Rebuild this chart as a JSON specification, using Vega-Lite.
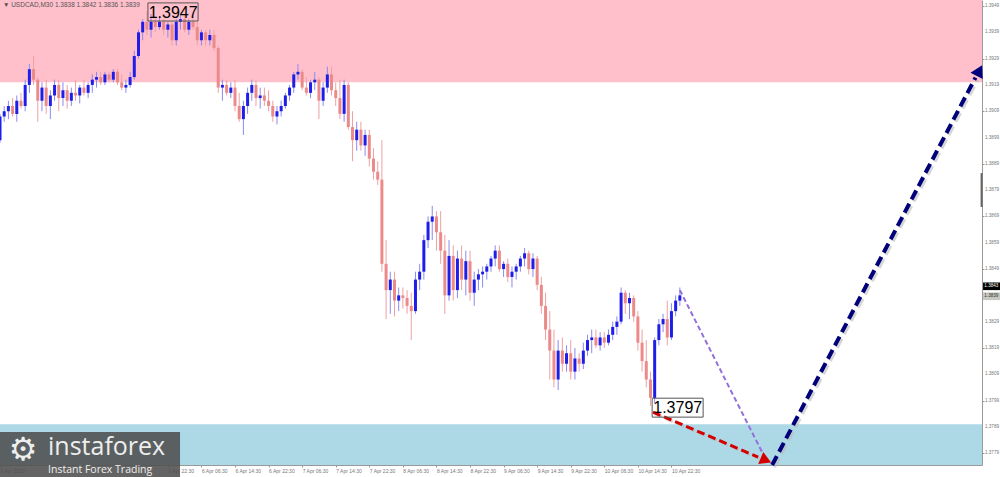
{
"$schema": "https://vega.github.io/schema/vega-lite/v6.json",
"width": 982, "height": 465,
"autosize": {"type": "none"},
"padding": {"left": 0, "top": 0, "right": 18, "bottom": 12},
"background": "white",
"config": {
"view": {"stroke": null},
"scale": {"continuousPadding": 0},
"axis": {"labelOverlap": false, "labelFlush": false, "labelBound": false, "grid": false, "title": null, "labelFont": "Liberation Sans", "labelColor": "#777777", "tickColor": "#999999", "domainColor": "#999999"},
"axisX": {"labelFontSize": 5, "labelPadding": 1, "tickSize": 2, "labelAlign": "left"},
"axisY": {"labels": false, "tickSize": 2}
},
"datasets": {
"candles": [
{"t":0,"o":1.3898,"h":1.3908,"l":1.3897,"c":1.3907},
{"t":2,"o":1.3907,"h":1.3911,"l":1.3905,"c":1.3909},
{"t":4,"o":1.3909,"h":1.3913,"l":1.3906,"c":1.3911},
{"t":6,"o":1.3911,"h":1.3914,"l":1.3907,"c":1.3908},
{"t":8,"o":1.3908,"h":1.3915,"l":1.3905,"c":1.3913},
{"t":10,"o":1.3913,"h":1.3916,"l":1.3910,"c":1.3911},
{"t":12,"o":1.3911,"h":1.3921,"l":1.3909,"c":1.3919},
{"t":14,"o":1.3919,"h":1.3927,"l":1.3916,"c":1.3925},
{"t":16,"o":1.3925,"h":1.3930,"l":1.3919,"c":1.3921},
{"t":18,"o":1.3921,"h":1.3922,"l":1.3905,"c":1.3913},
{"t":20,"o":1.3913,"h":1.3920,"l":1.3909,"c":1.3918},
{"t":22,"o":1.3918,"h":1.3921,"l":1.3908,"c":1.3911},
{"t":24,"o":1.3911,"h":1.3917,"l":1.3906,"c":1.3915},
{"t":26,"o":1.3915,"h":1.3921,"l":1.3913,"c":1.3919},
{"t":28,"o":1.3919,"h":1.3921,"l":1.3909,"c":1.3914},
{"t":30,"o":1.3914,"h":1.3920,"l":1.3911,"c":1.3917},
{"t":32,"o":1.3917,"h":1.3919,"l":1.3910,"c":1.3913},
{"t":34,"o":1.3913,"h":1.3918,"l":1.3911,"c":1.3916},
{"t":36,"o":1.3916,"h":1.3921,"l":1.3913,"c":1.3915},
{"t":38,"o":1.3915,"h":1.3919,"l":1.3912,"c":1.3918},
{"t":40,"o":1.3918,"h":1.3921,"l":1.3915,"c":1.3916},
{"t":42,"o":1.3916,"h":1.3920,"l":1.3914,"c":1.3919},
{"t":44,"o":1.3919,"h":1.3923,"l":1.3916,"c":1.3921},
{"t":46,"o":1.3921,"h":1.3924,"l":1.3918,"c":1.3922},
{"t":48,"o":1.3922,"h":1.3924,"l":1.3919,"c":1.3920},
{"t":50,"o":1.3920,"h":1.3924,"l":1.3919,"c":1.3923},
{"t":52,"o":1.3923,"h":1.3924,"l":1.3920,"c":1.3921},
{"t":54,"o":1.3921,"h":1.3925,"l":1.3920,"c":1.3924},
{"t":56,"o":1.3924,"h":1.3925,"l":1.3919,"c":1.3920},
{"t":58,"o":1.3920,"h":1.3923,"l":1.3917,"c":1.3918},
{"t":60,"o":1.3918,"h":1.3921,"l":1.3916,"c":1.3919},
{"t":62,"o":1.3919,"h":1.3924,"l":1.3918,"c":1.3922},
{"t":64,"o":1.3922,"h":1.3932,"l":1.3921,"c":1.3930},
{"t":66,"o":1.3930,"h":1.3940,"l":1.3929,"c":1.3939},
{"t":68,"o":1.3939,"h":1.3944,"l":1.3936,"c":1.3943},
{"t":70,"o":1.3943,"h":1.3947,"l":1.3938,"c":1.3940},
{"t":72,"o":1.3940,"h":1.3946,"l":1.3937,"c":1.3943},
{"t":74,"o":1.3943,"h":1.3945,"l":1.3939,"c":1.3941},
{"t":76,"o":1.3941,"h":1.3945,"l":1.3940,"c":1.3943},
{"t":78,"o":1.3943,"h":1.3944,"l":1.3938,"c":1.3940},
{"t":80,"o":1.3940,"h":1.3943,"l":1.3937,"c":1.3942},
{"t":82,"o":1.3942,"h":1.3943,"l":1.3934,"c":1.3936},
{"t":84,"o":1.3936,"h":1.3944,"l":1.3934,"c":1.3943},
{"t":86,"o":1.3943,"h":1.3946,"l":1.3940,"c":1.3944},
{"t":88,"o":1.3944,"h":1.3946,"l":1.3939,"c":1.3940},
{"t":90,"o":1.3940,"h":1.3944,"l":1.3938,"c":1.3943},
{"t":92,"o":1.3943,"h":1.3945,"l":1.3940,"c":1.3941},
{"t":94,"o":1.3941,"h":1.3943,"l":1.3934,"c":1.3936},
{"t":96,"o":1.3936,"h":1.3940,"l":1.3934,"c":1.3939},
{"t":98,"o":1.3939,"h":1.3940,"l":1.3934,"c":1.3936},
{"t":100,"o":1.3936,"h":1.3940,"l":1.3934,"c":1.3938},
{"t":102,"o":1.3938,"h":1.3940,"l":1.3932,"c":1.3933},
{"t":104,"o":1.3933,"h":1.3934,"l":1.3916,"c":1.3918},
{"t":106,"o":1.3918,"h":1.3921,"l":1.3913,"c":1.3919},
{"t":108,"o":1.3919,"h":1.3921,"l":1.3915,"c":1.3916},
{"t":110,"o":1.3916,"h":1.3920,"l":1.3914,"c":1.3918},
{"t":112,"o":1.3918,"h":1.3921,"l":1.3909,"c":1.3911},
{"t":114,"o":1.3911,"h":1.3916,"l":1.3905,"c":1.3906},
{"t":116,"o":1.3906,"h":1.3913,"l":1.3900,"c":1.3911},
{"t":118,"o":1.3911,"h":1.3918,"l":1.3908,"c":1.3916},
{"t":120,"o":1.3916,"h":1.3921,"l":1.3913,"c":1.3919},
{"t":122,"o":1.3919,"h":1.3921,"l":1.3911,"c":1.3914},
{"t":124,"o":1.3914,"h":1.3918,"l":1.3910,"c":1.3915},
{"t":126,"o":1.3915,"h":1.3918,"l":1.3911,"c":1.3913},
{"t":128,"o":1.3913,"h":1.3917,"l":1.3909,"c":1.3911},
{"t":130,"o":1.3911,"h":1.3913,"l":1.3905,"c":1.3907},
{"t":132,"o":1.3907,"h":1.3911,"l":1.3904,"c":1.3909},
{"t":134,"o":1.3909,"h":1.3913,"l":1.3907,"c":1.3911},
{"t":136,"o":1.3911,"h":1.3916,"l":1.3910,"c":1.3915},
{"t":138,"o":1.3915,"h":1.3919,"l":1.3913,"c":1.3918},
{"t":140,"o":1.3918,"h":1.3924,"l":1.3916,"c":1.3923},
{"t":142,"o":1.3923,"h":1.3927,"l":1.3921,"c":1.3924},
{"t":144,"o":1.3924,"h":1.3925,"l":1.3917,"c":1.3918},
{"t":146,"o":1.3918,"h":1.3922,"l":1.3915,"c":1.3916},
{"t":148,"o":1.3916,"h":1.3921,"l":1.3914,"c":1.3920},
{"t":150,"o":1.3920,"h":1.3924,"l":1.3917,"c":1.3921},
{"t":152,"o":1.3921,"h":1.3922,"l":1.3906,"c":1.3913},
{"t":154,"o":1.3913,"h":1.3920,"l":1.3911,"c":1.3918},
{"t":156,"o":1.3918,"h":1.3926,"l":1.3916,"c":1.3923},
{"t":158,"o":1.3923,"h":1.3926,"l":1.3915,"c":1.3917},
{"t":160,"o":1.3917,"h":1.3920,"l":1.3911,"c":1.3914},
{"t":162,"o":1.3914,"h":1.3921,"l":1.3906,"c":1.3908},
{"t":164,"o":1.3908,"h":1.3921,"l":1.3905,"c":1.3919},
{"t":166,"o":1.3919,"h":1.3920,"l":1.3902,"c":1.3903},
{"t":168,"o":1.3903,"h":1.3909,"l":1.3890,"c":1.3898},
{"t":170,"o":1.3898,"h":1.3905,"l":1.3894,"c":1.3902},
{"t":172,"o":1.3902,"h":1.3905,"l":1.3894,"c":1.3896},
{"t":174,"o":1.3896,"h":1.3902,"l":1.3892,"c":1.3900},
{"t":176,"o":1.3900,"h":1.3902,"l":1.3888,"c":1.3891},
{"t":178,"o":1.3891,"h":1.3895,"l":1.3883,"c":1.3886},
{"t":180,"o":1.3886,"h":1.3890,"l":1.3881,"c":1.3883},
{"t":182,"o":1.3883,"h":1.3898,"l":1.3848,"c":1.3851},
{"t":184,"o":1.3851,"h":1.3860,"l":1.3830,"c":1.3841},
{"t":186,"o":1.3841,"h":1.3848,"l":1.3832,"c":1.3845},
{"t":188,"o":1.3845,"h":1.3848,"l":1.3831,"c":1.3837},
{"t":190,"o":1.3837,"h":1.3842,"l":1.3833,"c":1.3839},
{"t":192,"o":1.3839,"h":1.3842,"l":1.3834,"c":1.3838},
{"t":194,"o":1.3838,"h":1.3841,"l":1.3832,"c":1.3835},
{"t":196,"o":1.3835,"h":1.3840,"l":1.3822,"c":1.3833},
{"t":198,"o":1.3833,"h":1.3848,"l":1.3832,"c":1.3845},
{"t":200,"o":1.3845,"h":1.3851,"l":1.3841,"c":1.3848},
{"t":202,"o":1.3848,"h":1.3862,"l":1.3845,"c":1.3860},
{"t":204,"o":1.3860,"h":1.3869,"l":1.3857,"c":1.3867},
{"t":206,"o":1.3867,"h":1.3873,"l":1.3860,"c":1.3869},
{"t":208,"o":1.3869,"h":1.3871,"l":1.3856,"c":1.3863},
{"t":210,"o":1.3863,"h":1.3871,"l":1.3851,"c":1.3856},
{"t":212,"o":1.3856,"h":1.3862,"l":1.3832,"c":1.3839},
{"t":214,"o":1.3839,"h":1.3860,"l":1.3837,"c":1.3854},
{"t":216,"o":1.3854,"h":1.3858,"l":1.3837,"c":1.3841},
{"t":218,"o":1.3841,"h":1.3856,"l":1.3838,"c":1.3853},
{"t":220,"o":1.3853,"h":1.3858,"l":1.3841,"c":1.3845},
{"t":222,"o":1.3845,"h":1.3856,"l":1.3839,"c":1.3852},
{"t":224,"o":1.3852,"h":1.3856,"l":1.3837,"c":1.3840},
{"t":226,"o":1.3840,"h":1.3848,"l":1.3835,"c":1.3845},
{"t":228,"o":1.3845,"h":1.3849,"l":1.3841,"c":1.3847},
{"t":230,"o":1.3847,"h":1.3850,"l":1.3842,"c":1.3848},
{"t":232,"o":1.3848,"h":1.3851,"l":1.3845,"c":1.3850},
{"t":234,"o":1.3850,"h":1.3854,"l":1.3848,"c":1.3853},
{"t":236,"o":1.3853,"h":1.3858,"l":1.3850,"c":1.3856},
{"t":238,"o":1.3856,"h":1.3858,"l":1.3848,"c":1.3849},
{"t":240,"o":1.3849,"h":1.3852,"l":1.3846,"c":1.3851},
{"t":242,"o":1.3851,"h":1.3853,"l":1.3844,"c":1.3846},
{"t":244,"o":1.3846,"h":1.3850,"l":1.3842,"c":1.3848},
{"t":246,"o":1.3848,"h":1.3851,"l":1.3845,"c":1.3850},
{"t":248,"o":1.3850,"h":1.3854,"l":1.3848,"c":1.3853},
{"t":250,"o":1.3853,"h":1.3857,"l":1.3850,"c":1.3855},
{"t":252,"o":1.3855,"h":1.3856,"l":1.3847,"c":1.3849},
{"t":254,"o":1.3849,"h":1.3855,"l":1.3846,"c":1.3853},
{"t":256,"o":1.3853,"h":1.3854,"l":1.3841,"c":1.3843},
{"t":258,"o":1.3843,"h":1.3846,"l":1.3832,"c":1.3835},
{"t":260,"o":1.3835,"h":1.3840,"l":1.3822,"c":1.3826},
{"t":262,"o":1.3826,"h":1.3833,"l":1.3807,"c":1.3818},
{"t":264,"o":1.3818,"h":1.3826,"l":1.3804,"c":1.3807},
{"t":266,"o":1.3807,"h":1.3822,"l":1.3803,"c":1.3818},
{"t":268,"o":1.3818,"h":1.3823,"l":1.3810,"c":1.3813},
{"t":270,"o":1.3813,"h":1.3820,"l":1.3810,"c":1.3817},
{"t":272,"o":1.3817,"h":1.3822,"l":1.3807,"c":1.3810},
{"t":274,"o":1.3810,"h":1.3819,"l":1.3807,"c":1.3815},
{"t":276,"o":1.3815,"h":1.3817,"l":1.3810,"c":1.3813},
{"t":278,"o":1.3813,"h":1.3821,"l":1.3811,"c":1.3818},
{"t":280,"o":1.3818,"h":1.3824,"l":1.3816,"c":1.3822},
{"t":282,"o":1.3822,"h":1.3826,"l":1.3817,"c":1.3823},
{"t":284,"o":1.3823,"h":1.3826,"l":1.3819,"c":1.3820},
{"t":286,"o":1.3820,"h":1.3825,"l":1.3818,"c":1.3823},
{"t":288,"o":1.3823,"h":1.3825,"l":1.3819,"c":1.3821},
{"t":290,"o":1.3821,"h":1.3826,"l":1.3820,"c":1.3824},
{"t":292,"o":1.3824,"h":1.3829,"l":1.3822,"c":1.3827},
{"t":294,"o":1.3827,"h":1.3831,"l":1.3824,"c":1.3829},
{"t":296,"o":1.3829,"h":1.3842,"l":1.3828,"c":1.3840},
{"t":298,"o":1.3840,"h":1.3841,"l":1.3832,"c":1.3836},
{"t":300,"o":1.3836,"h":1.3840,"l":1.3830,"c":1.3838},
{"t":302,"o":1.3838,"h":1.3839,"l":1.3829,"c":1.3831},
{"t":304,"o":1.3831,"h":1.3833,"l":1.3818,"c":1.3821},
{"t":306,"o":1.3821,"h":1.3826,"l":1.3810,"c":1.3814},
{"t":308,"o":1.3814,"h":1.3822,"l":1.3804,"c":1.3807},
{"t":310,"o":1.3807,"h":1.3810,"l":1.3797,"c":1.3800},
{"t":312,"o":1.3800,"h":1.3823,"l":1.3798,"c":1.3822},
{"t":314,"o":1.3822,"h":1.3830,"l":1.3820,"c":1.3828},
{"t":316,"o":1.3828,"h":1.3832,"l":1.3825,"c":1.3830},
{"t":318,"o":1.3830,"h":1.3837,"l":1.3820,"c":1.3823},
{"t":320,"o":1.3823,"h":1.3836,"l":1.3822,"c":1.3833},
{"t":322,"o":1.3833,"h":1.3839,"l":1.3831,"c":1.3837},
{"t":324,"o":1.3837,"h":1.3842,"l":1.3835,"c":1.3839}
],
"zones": [
{"zone":"resistance","lo":1.3920,"hi":1.39513},
{"zone":"support","lo":1.37745,"hi":1.3790}
],
"ylabels": [
{"p":1.3779,"label":"1.3779"},{"p":1.3789,"label":"1.3789"},{"p":1.3799,"label":"1.3799"},{"p":1.3809,"label":"1.3809"},
{"p":1.3819,"label":"1.3819"},{"p":1.3829,"label":"1.3829"},{"p":1.3849,"label":"1.3849"},{"p":1.3859,"label":"1.3859"},
{"p":1.3869,"label":"1.3869"},{"p":1.3879,"label":"1.3879"},{"p":1.3889,"label":"1.3889"},{"p":1.3899,"label":"1.3899"},
{"p":1.3909,"label":"1.3909"},{"p":1.3919,"label":"1.3919"},{"p":1.3929,"label":"1.3929"},{"p":1.3939,"label":"1.3939"},
{"p":1.3949,"label":"1.3949"}
]
},
"layer": [
{
"data": {"name": "zones"},
"mark": {"type": "rect"},
"encoding": {
"x": {"datum": 0, "type": "quantitative", "title": null, "scale": {"domain": [0, 468], "nice": false, "zero": false, "padding": 0},
"axis": {"orient": "bottom", "values": [0,80,96,112,128,144,160,176,192,208,224,240,256,272,288,304,320],
"labelExpr": "['2 Apr 2020','2 Apr 14:30','2 Apr 22:30','3 Apr 06:30','3 Apr 14:30','3 Apr 22:30','6 Apr 06:30','6 Apr 14:30','6 Apr 22:30','7 Apr 06:30','7 Apr 14:30','7 Apr 22:30','8 Apr 06:30','8 Apr 14:30','8 Apr 22:30','9 Apr 06:30','9 Apr 14:30','9 Apr 22:30','10 Apr 06:30','10 Apr 14:30','10 Apr 22:30'][datum.value/16]",
"labelAlign": "left", "labelOverlap": false, "labelFlush": false, "zindex": 0}},
"x2": {"datum": 468},
"y": {"field": "lo", "type": "quantitative", "title": null, "scale": {"domain": [1.37745, 1.39513], "nice": false, "zero": false, "padding": 0},
"axis": {"orient": "right", "values": [1.3779,1.3789,1.3799,1.3809,1.3819,1.3829,1.3849,1.3859,1.3869,1.3879,1.3889,1.3899,1.3909,1.3919,1.3929,1.3939,1.3949],
"labels": false, "zindex": 0}},
"y2": {"field": "hi"},
"color": {"field": "zone", "type": "nominal", "scale": {"domain": ["resistance", "support"], "range": ["#FFC0CB", "#ADD8E6"]}, "legend": null}
}
},
{
"data": {"name": "candles"},
"mark": {"type": "rule", "strokeWidth": 1},
"encoding": {
"x": {"field": "t", "type": "quantitative", "title": null, "scale": {"domain": [0, 468], "nice": false, "zero": false, "padding": 0}},
"y": {"field": "l", "type": "quantitative", "title": null, "scale": {"domain": [1.37745, 1.39513], "nice": false, "zero": false, "padding": 0}},
"y2": {"field": "h"},
"color": {"condition": {"test": "datum.c < datum.o", "value": "#f0a0a0"}, "value": "#8a8af2"}
}
},
{
"data": {"name": "candles"},
"mark": {"type": "bar", "size": 3},
"encoding": {
"x": {"field": "t", "type": "quantitative", "title": null, "scale": {"domain": [0, 468], "nice": false, "zero": false, "padding": 0}},
"y": {"field": "o", "type": "quantitative", "title": null, "scale": {"domain": [1.37745, 1.39513], "nice": false, "zero": false, "padding": 0}},
"y2": {"field": "c"},
"color": {"condition": {"test": "datum.c < datum.o", "value": "#ec8a8a"}, "value": "#1e1ee8"}
}
},
{
"data": {"name": "ylabels"},
"mark": {"type": "text", "fontSize": 4.6, "font": "Liberation Sans", "color": "#777777", "align": "left", "baseline": "middle"},
"encoding": {
"x": {"datum": 469.4, "type": "quantitative", "title": null},
"y": {"field": "p", "type": "quantitative", "title": null},
"text": {"field": "label"}
}
},
{
"data": {"values": [{"t": 324, "p": 1.3841}, {"t": 364.6, "p": 1.37772}]},
"mark": {"type": "line", "color": "#9370DB", "strokeWidth": 2, "strokeDash": [5, 3]},
"encoding": {
"x": {"field": "t", "type": "quantitative", "title": null},
"y": {"field": "p", "type": "quantitative", "title": null}
}
},
{
"data": {"values": [{"t": 311.2, "p": 1.37946}, {"t": 361.3, "p": 1.37775}]},
"mark": {"type": "line", "color": "#bbbbbb", "strokeWidth": 3, "strokeDash": [8, 4], "xOffset": 1.5, "yOffset": 1.5, "opacity": 0.6},
"encoding": {
"x": {"field": "t", "type": "quantitative", "title": null},
"y": {"field": "p", "type": "quantitative", "title": null}
}
},
{
"data": {"values": [{"t": 311.2, "p": 1.37946}, {"t": 361.3, "p": 1.37775}]},
"mark": {"type": "line", "color": "#D40000", "strokeWidth": 3, "strokeDash": [8, 4]},
"encoding": {
"x": {"field": "t", "type": "quantitative", "title": null},
"y": {"field": "p", "type": "quantitative", "title": null}
}
},
{
"data": {"values": [{"t": 368, "p": 1.37745}, {"t": 464.9, "p": 1.39218}]},
"mark": {"type": "line", "color": "#bbbbbb", "strokeWidth": 4, "strokeDash": [10, 5], "xOffset": 2, "yOffset": 2, "opacity": 0.6},
"encoding": {
"x": {"field": "t", "type": "quantitative", "title": null},
"y": {"field": "p", "type": "quantitative", "title": null}
}
},
{
"data": {"values": [{"t": 368, "p": 1.37745}, {"t": 464.9, "p": 1.39218}]},
"mark": {"type": "line", "color": "#00007A", "strokeWidth": 4, "strokeDash": [10, 5]},
"encoding": {
"x": {"field": "t", "type": "quantitative", "title": null},
"y": {"field": "p", "type": "quantitative", "title": null}
}
},
{
"data": {"values": [{"t": 364.2, "p": 1.37766}]},
"mark": {"type": "point", "shape": "triangle", "filled": true, "size": 170, "angle": 113, "color": "#D40000", "opacity": 1},
"encoding": {
"x": {"field": "t", "type": "quantitative", "title": null},
"y": {"field": "p", "type": "quantitative", "title": null}
}
},
{
"data": {"values": [{"t": 466.3, "p": 1.39238}]},
"mark": {"type": "point", "shape": "triangle", "filled": true, "size": 190, "angle": 27.7, "color": "#00007A", "opacity": 1},
"encoding": {
"x": {"field": "t", "type": "quantitative", "title": null},
"y": {"field": "p", "type": "quantitative", "title": null}
}
},
{
"data": {"values": [{"t": 70.5, "t1": 94.4, "p": 1.39502, "p1": 1.39433}, {"t": 310.8, "t1": 335.1, "p": 1.37999, "p1": 1.37927}]},
"mark": {"type": "rect", "fill": null, "fillOpacity": 0, "stroke": "#555555", "strokeWidth": 1},
"encoding": {
"x": {"field": "t", "type": "quantitative", "title": null},
"x2": {"field": "t1"},
"y": {"field": "p", "type": "quantitative", "title": null},
"y2": {"field": "p1"}
}
},
{
"data": {"values": [{"t": 82.5, "p": 1.39465, "label": "1.3947"}, {"t": 323, "p": 1.37962, "label": "1.3797"}]},
"mark": {"type": "text", "fontSize": 16, "font": "Liberation Sans", "color": "#000000", "align": "center", "baseline": "middle"},
"encoding": {
"x": {"field": "t", "type": "quantitative", "title": null},
"y": {"field": "p", "type": "quantitative", "title": null},
"text": {"field": "label"}
}
},
{
"data": {"values": [{"t": 1.4, "p": 1.39494, "label": "▼ USDCAD,M30  1.3838 1.3842 1.3836 1.3839"}]},
"mark": {"type": "text", "fontSize": 6.5, "font": "Liberation Sans", "color": "#555555", "align": "left", "baseline": "middle"},
"encoding": {
"x": {"field": "t", "type": "quantitative", "title": null},
"y": {"field": "p", "type": "quantitative", "title": null},
"text": {"field": "label"}
}
},
{
"data": {"values": [{"t": 468.5, "t1": 477, "p": 1.38439, "p1": 1.38410}]},
"mark": {"type": "rect", "color": "#000000"},
"encoding": {
"x": {"field": "t", "type": "quantitative", "title": null},
"x2": {"field": "t1"},
"y": {"field": "p", "type": "quantitative", "title": null},
"y2": {"field": "p1"}
}
},
{
"data": {"values": [{"t": 468.5, "t1": 477, "p": 1.38401, "p1": 1.38372}]},
"mark": {"type": "rect", "color": "#c8c8c0"},
"encoding": {
"x": {"field": "t", "type": "quantitative", "title": null},
"x2": {"field": "t1"},
"y": {"field": "p", "type": "quantitative", "title": null},
"y2": {"field": "p1"}
}
},
{
"data": {"values": [{"t": 469.1, "p": 1.38424, "label": "1.3843"}]},
"mark": {"type": "text", "fontSize": 4.6, "font": "Liberation Sans", "align": "left", "baseline": "middle", "color": "#ffffff"},
"encoding": {
"x": {"field": "t", "type": "quantitative", "title": null},
"y": {"field": "p", "type": "quantitative", "title": null},
"text": {"field": "label"}
}
},
{
"data": {"values": [{"t": 469.1, "p": 1.38386, "label": "1.3839"}]},
"mark": {"type": "text", "fontSize": 4.6, "font": "Liberation Sans", "align": "left", "baseline": "middle", "color": "#333333"},
"encoding": {
"x": {"field": "t", "type": "quantitative", "title": null},
"y": {"field": "p", "type": "quantitative", "title": null},
"text": {"field": "label"}
}
},
{
"data": {"values": [{"t": 467.8, "p": 1.38855, "p1": 1.38726}]},
"mark": {"type": "rule", "color": "#666666", "strokeWidth": 2},
"encoding": {
"x": {"field": "t", "type": "quantitative", "title": null},
"y": {"field": "p", "type": "quantitative", "title": null},
"y2": {"field": "p1"}
}
},
{
"data": {"values": [{"t": 0, "t1": 85.8, "p": 1.37870, "p1": 1.37699}]},
"mark": {"type": "rect", "color": "#4e4e4e", "opacity": 0.88},
"encoding": {
"x": {"field": "t", "type": "quantitative", "title": null},
"x2": {"field": "t1"},
"y": {"field": "p", "type": "quantitative", "title": null},
"y2": {"field": "p1"}
}
},
{
"data": {"values": [{"t": 11, "p": 1.37802, "label": "⚙"}]},
"mark": {"type": "text", "fontSize": 32, "font": "DejaVu Sans", "color": "#eeeeee", "align": "center", "baseline": "middle"},
"encoding": {
"x": {"field": "t", "type": "quantitative", "title": null},
"y": {"field": "p", "type": "quantitative", "title": null},
"text": {"field": "label"}
}
},
{
"data": {"values": [{"t": 22.9, "p": 1.37783, "label": "instaforex"}]},
"mark": {"type": "text", "fontSize": 25, "font": "Open Sans", "color": "#eeeeee", "align": "left", "baseline": "alphabetic"},
"encoding": {
"x": {"field": "t", "type": "quantitative", "title": null},
"y": {"field": "p", "type": "quantitative", "title": null},
"text": {"field": "label"}
}
},
{
"data": {"values": [{"t": 22.9, "p": 1.37713, "label": "Instant Forex Trading"}]},
"mark": {"type": "text", "fontSize": 10.5, "font": "Open Sans", "color": "#eeeeee", "align": "left", "baseline": "alphabetic"},
"encoding": {
"x": {"field": "t", "type": "quantitative", "title": null},
"y": {"field": "p", "type": "quantitative", "title": null},
"text": {"field": "label"}
}
}
]
}
